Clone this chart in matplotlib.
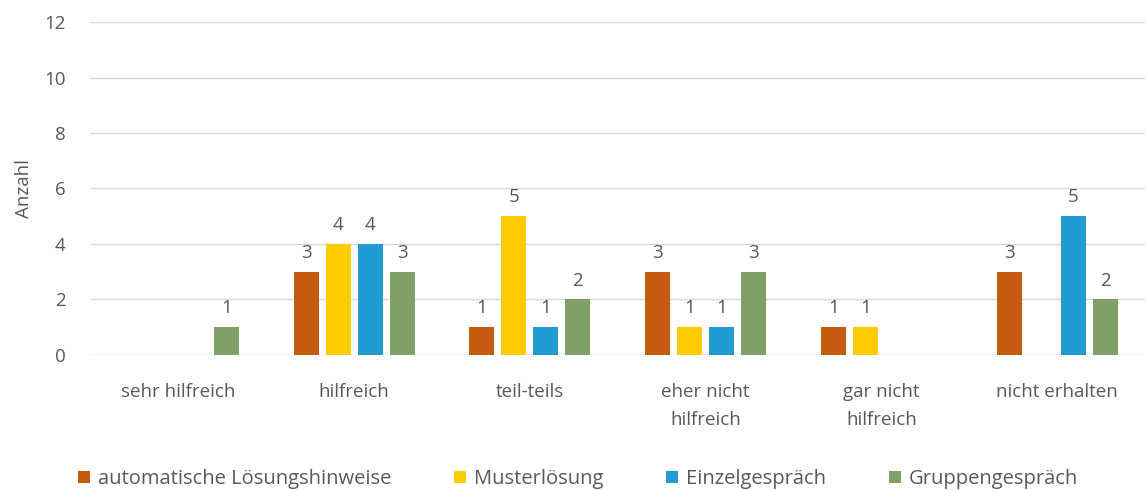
import numpy as np
import matplotlib.pyplot as plt

plt.rcParams['font.family'] = ['Open Sans', 'DejaVu Sans']

categories = ['sehr hilfreich', 'hilfreich', 'teil-teils', 'eher nicht\nhilfreich',
              'gar nicht\nhilfreich', 'nicht erhalten']
series = ['automatische Lösungshinweise', 'Musterlösung', 'Einzelgespräch', 'Gruppengespräch']
automatisch = [0, 3, 1, 3, 1, 3]
muster = [0, 4, 5, 1, 1, 0]
einzel = [0, 4, 1, 1, 0, 5]
gruppe = [1, 3, 2, 3, 0, 2]
colors = ['#C55A11', '#FFCC00', '#229BD2', '#80A067']
text_color = '#595959'

fig = plt.figure(figsize=(11.45, 4.9), dpi=100)
ax = fig.add_axes([0.079, 0.276, 0.921, 0.679])

x = np.arange(len(categories))
step = 0.182
width = 0.143
for i, (vals, name, col) in enumerate(zip([automatisch, muster, einzel, gruppe], series, colors)):
    pos = x + (i - 1.5) * step
    ax.bar(pos, vals, width, color=col, label=name, zorder=3)
    # value labels only where a bar exists
    for p, v in zip(pos, vals):
        if v > 0:
            ax.text(p, v + 0.35, str(v), ha='center', va='bottom',
                    fontsize=13.5, color=text_color)

ax.set_xlim(-0.5, len(categories) - 0.5)
ax.set_ylim(0, 12)
ax.set_yticks(range(0, 13, 2))
ax.grid(axis='y', color='#D9D9D9', linewidth=1, zorder=0)
ax.set_xticks(x)
ax.set_xticklabels(categories, fontsize=13.5, color=text_color, linespacing=1.75)
ax.tick_params(axis='both', length=0, labelcolor=text_color)
ax.tick_params(axis='x', pad=20, labelsize=13.5)
ax.tick_params(axis='y', pad=18, labelsize=13.5)
for s in ax.spines.values():
    s.set_visible(False)
ax.set_ylabel('Anzahl', fontsize=13.5, color=text_color, labelpad=8)

fig.legend(loc='lower center', ncol=4, frameon=False, fontsize=14.5,
           labelcolor=text_color, bbox_to_anchor=(0.505, -0.035),
           handlelength=0.6, handleheight=0.6, handletextpad=0.4, columnspacing=3.1)

fig.savefig('out.png', dpi=100)
